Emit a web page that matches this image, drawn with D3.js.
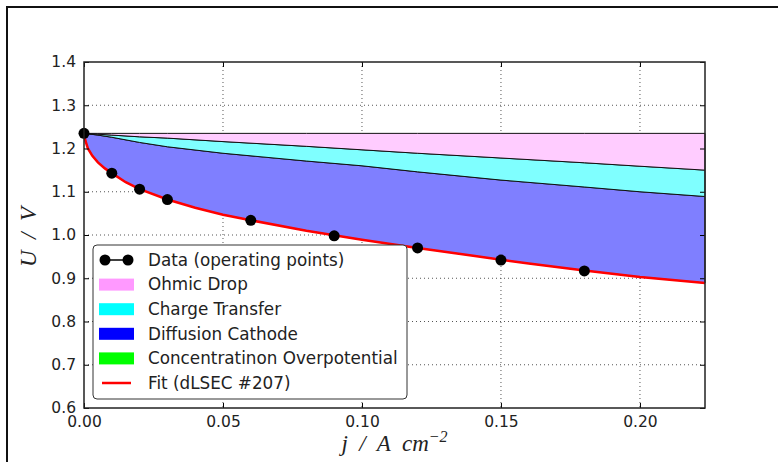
<!DOCTYPE html>
<html>
<head>
<meta charset="utf-8">
<script src="https://cdn.jsdelivr.net/npm/d3@7"></script>
<style>
  body { margin: 0; background: #fff; }
  svg { display: block; }
  .tick text { font-family: "DejaVu Sans", sans-serif; font-size: 15.5px; fill: #222; }
  .legend text { font-family: "DejaVu Sans", sans-serif; font-size: 16.8px; fill: #222; }
  .mathlabel { font-family: "Liberation Serif", "DejaVu Serif", serif; font-style: italic; font-size: 23px; fill: #222; }
</style>
</head>
<body>
<div class="chart"></div>
<script>
// operating points
const dataJ = [0, 0.01, 0.02, 0.03, 0.06, 0.09, 0.12, 0.15, 0.18]
const dataU = [1.235, 1.143, 1.106, 1.082, 1.034, 0.998, 0.970, 0.942, 0.917]

// loss bands, common current grid
const bandJ = [0, 0.005, 0.01, 0.02, 0.03, 0.05, 0.08, 0.10, 0.12, 0.15, 0.18, 0.20, 0.2234]
const ocv = [1.235, 1.235, 1.235, 1.235, 1.235, 1.235, 1.235, 1.235, 1.235, 1.235, 1.235, 1.235, 1.235]
const ohmicBottom = [1.235, 1.233, 1.231, 1.227, 1.224, 1.216, 1.205, 1.197, 1.189, 1.178, 1.167, 1.159, 1.150]
const chargeBottom = [1.235, 1.231, 1.226, 1.214, 1.204, 1.189, 1.171, 1.160, 1.146, 1.127, 1.111, 1.100, 1.089]

// fit curve
const fitJ = [0, 0.0005, 0.0014, 0.003, 0.005, 0.0075, 0.01, 0.015, 0.02, 0.03, 0.04, 0.05, 0.06, 0.08, 0.10, 0.12, 0.14, 0.16, 0.18, 0.20, 0.2234]
const fitU = [1.235, 1.218, 1.200, 1.183, 1.168, 1.154, 1.143, 1.122, 1.106, 1.082, 1.063, 1.047, 1.034, 1.010, 0.989, 0.970, 0.952, 0.934, 0.918, 0.903, 0.889]

const xTicks = [0, 0.05, 0.10, 0.15, 0.20]
const yTicks = [0.6, 0.7, 0.8, 0.9, 1.0, 1.1, 1.2, 1.3, 1.4]

const legendItems = [
    {label: "Data (operating points)", kind: "marker"},
    {label: "Ohmic Drop", kind: "patch", color: "#ff99ff"},
    {label: "Charge Transfer", kind: "patch", color: "#00ffff"},
    {label: "Diffusion Cathode", kind: "patch", color: "#0000ff"},
    {label: "Concentratinon Overpotential", kind: "patch", color: "#00ff00"},
    {label: "Fit (dLSEC #207)", kind: "line", color: "#ff0000"}
]

const width = 778, height = 462
const margin = {left: 84, top: 62, right: 73, bottom: 54}
const innerW = width - margin.left - margin.right
const innerH = height - margin.top - margin.bottom

const svg = d3.select("div.chart").append("svg")
    .attr("width", width)
    .attr("height", height)

// outer frame of the screenshot
svg.append("rect")
    .attr("x", 7).attr("y", 7)
    .attr("width", width + 20).attr("height", height + 20)
    .attr("fill", "none").attr("stroke", "#111").attr("stroke-width", 2)

const x = d3.scaleLinear().domain([0, 0.2234]).range([margin.left, margin.left + innerW])
const y = d3.scaleLinear().domain([0.6, 1.4]).range([margin.top + innerH, margin.top])

// grid
const grid = svg.append("g")
grid.selectAll(".gx").data(xTicks.slice(1)).enter().append("line")
    .attr("x1", d => x(d)).attr("x2", d => x(d))
    .attr("y1", margin.top).attr("y2", margin.top + innerH)
    .attr("stroke", "#555").attr("stroke-width", 1).attr("stroke-dasharray", "1,3")
grid.selectAll(".gy").data(yTicks.slice(1, -1)).enter().append("line")
    .attr("x1", margin.left).attr("x2", margin.left + innerW)
    .attr("y1", d => y(d)).attr("y2", d => y(d))
    .attr("stroke", "#555").attr("stroke-width", 1).attr("stroke-dasharray", "1,3")

// bands
const band = (top, bottom) => d3.area()
    .x((d, i) => x(bandJ[i]))
    .y0((d, i) => y(bottom[i]))
    .y1((d, i) => y(top[i]))(bandJ)

const bandLayer = svg.append("g")
// diffusion: between charge-transfer bottom and the fit curve
const diffPts = bandJ.map((j, i) => [j, chargeBottom[i]])
    .concat(fitJ.map((j, i) => [j, fitU[i]]).reverse())
bandLayer.append("path")
    .attr("d", d3.line().x(d => x(d[0])).y(d => y(d[1]))(diffPts) + "Z")
    .attr("fill", "#7f7fff").attr("stroke", "#111").attr("stroke-width", 1)
bandLayer.append("path")
    .attr("d", band(ohmicBottom, chargeBottom))
    .attr("fill", "#7fffff").attr("stroke", "#111").attr("stroke-width", 1)
bandLayer.append("path")
    .attr("d", band(ocv, ohmicBottom))
    .attr("fill", "#ffccff").attr("stroke", "#111").attr("stroke-width", 1)

// fit
svg.append("path")
    .attr("d", d3.line().x((d, i) => x(fitJ[i])).y(d => y(d))(fitU))
    .attr("fill", "none").attr("stroke", "#ff0000").attr("stroke-width", 2.5)

// markers
svg.append("g").selectAll("circle").data(dataU).enter().append("circle")
    .attr("cx", (d, i) => x(dataJ[i])).attr("cy", d => y(d))
    .attr("r", 5.5).attr("fill", "#000")

// axes with inward ticks on all four sides
const fmtX = d3.format(".2f"), fmtY = d3.format(".1f")
const axisStyle = g => {
    g.select(".domain").remove()
    g.selectAll(".tick line").attr("stroke", "#000").attr("stroke-width", 1)
}
svg.append("g").attr("transform", `translate(0,${margin.top + innerH})`)
    .call(d3.axisBottom(x).tickValues(xTicks).tickFormat(fmtX).tickSizeInner(-5).tickPadding(8))
    .call(axisStyle)
svg.append("g").attr("transform", `translate(0,${margin.top})`)
    .call(d3.axisTop(x).tickValues(xTicks).tickFormat("").tickSizeInner(-5))
    .call(axisStyle)
svg.append("g").attr("transform", `translate(${margin.left},0)`)
    .call(d3.axisLeft(y).tickValues(yTicks).tickFormat(fmtY).tickSizeInner(-5).tickPadding(8))
    .call(axisStyle)
svg.append("g").attr("transform", `translate(${margin.left + innerW},0)`)
    .call(d3.axisRight(y).tickValues(yTicks).tickFormat("").tickSizeInner(-5))
    .call(axisStyle)

svg.append("rect")
    .attr("x", margin.left).attr("y", margin.top)
    .attr("width", innerW).attr("height", innerH)
    .attr("fill", "none").attr("stroke", "#222").attr("stroke-width", 1.5)

// axis labels
const xl = svg.append("text").attr("class", "mathlabel")
    .attr("x", margin.left + innerW / 2).attr("y", 451).attr("text-anchor", "middle")
    .attr("xml:space", "preserve")
xl.append("tspan").text("j  /  A  cm")
xl.append("tspan").attr("dy", -9).attr("font-size", 16).text("\u22122")

svg.append("text").attr("class", "mathlabel")
    .attr("transform", `translate(36,${margin.top + innerH / 2 + 2}) rotate(-90)`)
    .attr("text-anchor", "middle")
    .attr("xml:space", "preserve")
    .text("U  /  V")

// legend
const lg = svg.append("g").attr("class", "legend").attr("transform", "translate(93,245)")
lg.append("rect")
    .attr("width", 314).attr("height", 154).attr("rx", 4)
    .attr("fill", "#fff").attr("stroke", "#333").attr("stroke-width", 1)
const row = lg.selectAll(".row").data(legendItems).enter().append("g")
    .attr("transform", (d, i) => `translate(0,${15 + i * 24.6})`)
row.filter(d => d.kind === "patch").append("rect")
    .attr("x", 6).attr("y", -6).attr("width", 35).attr("height", 12).attr("fill", d => d.color)
row.filter(d => d.kind === "line").append("line")
    .attr("x1", 9).attr("x2", 38).attr("stroke", d => d.color).attr("stroke-width", 2.5)
const mk = row.filter(d => d.kind === "marker")
mk.append("line").attr("x1", 12).attr("x2", 35).attr("stroke", "#000").attr("stroke-width", 1.5)
mk.append("circle").attr("cx", 12).attr("r", 5.5).attr("fill", "#000")
mk.append("circle").attr("cx", 35).attr("r", 5.5).attr("fill", "#000")
row.append("text").attr("x", 55).attr("dy", "0.35em").text(d => d.label)
</script>
</body>
</html>
